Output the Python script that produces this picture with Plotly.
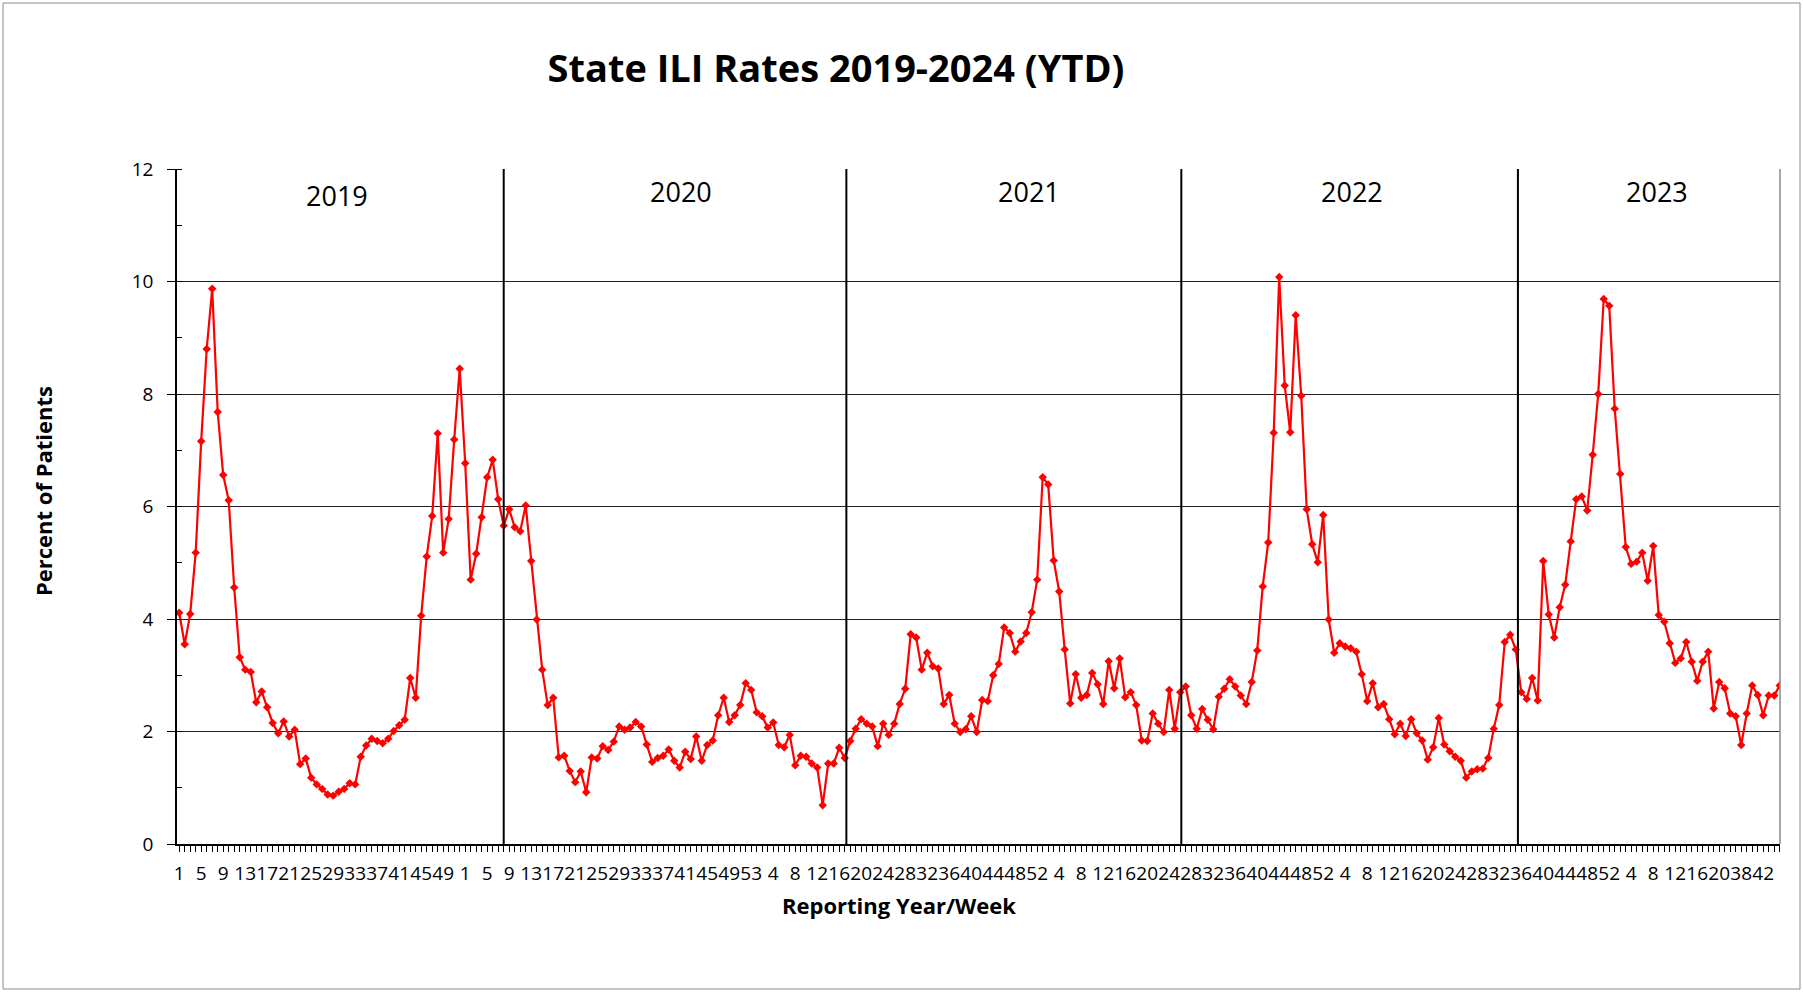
import plotly.graph_objects as go

# ---- categories: reporting weeks per year ----
weeks_2019 = list(range(1, 53))
weeks_2020 = list(range(1, 54))
weeks_2021 = list(range(1, 53))
weeks_2022 = list(range(1, 53))
weeks_2023 = list(range(1, 53))
weeks_2024 = list(range(1, 21)) + list(range(35, 46))

# ---- ILI percent of patients ----
ili_2019 = [4.11, 3.55, 4.09, 5.18, 7.16, 8.80, 9.87, 7.68, 6.56, 6.11, 4.56, 3.32, 3.10,
            3.06, 2.52, 2.71, 2.43, 2.15, 1.97, 2.18, 1.91, 2.03, 1.42, 1.52, 1.18, 1.06,
            0.98, 0.88, 0.86, 0.93, 0.98, 1.08, 1.06, 1.55, 1.75, 1.87, 1.83, 1.79, 1.87,
            2.01, 2.11, 2.21, 2.95, 2.60, 4.06, 5.11, 5.83, 7.30, 5.18, 5.78, 7.19, 8.45]
ili_2020 = [6.77, 4.70, 5.16, 5.81, 6.52, 6.83, 6.13, 5.66, 5.95, 5.63, 5.56, 6.02, 5.03,
            3.99, 3.10, 2.47, 2.60, 1.54, 1.57, 1.30, 1.10, 1.29, 0.92, 1.54, 1.52, 1.74,
            1.67, 1.82, 2.09, 2.03, 2.07, 2.17, 2.09, 1.77, 1.46, 1.53, 1.57, 1.68, 1.48,
            1.36, 1.64, 1.51, 1.91, 1.48, 1.76, 1.84, 2.29, 2.60, 2.17, 2.29, 2.47, 2.86,
            2.74]
ili_2021 = [2.34, 2.27, 2.07, 2.16, 1.76, 1.72, 1.94, 1.40, 1.57, 1.55, 1.43, 1.36, 0.69,
            1.43, 1.43, 1.71, 1.53, 1.83, 2.05, 2.22, 2.14, 2.09, 1.74, 2.14, 1.94, 2.14,
            2.49, 2.76, 3.73, 3.67, 3.10, 3.40, 3.16, 3.12, 2.49, 2.65, 2.14, 1.99, 2.04,
            2.27, 1.99, 2.56, 2.54, 3.00, 3.20, 3.85, 3.75, 3.42, 3.60, 3.75, 4.12, 4.70]
ili_2022 = [6.52, 6.39, 5.04, 4.49, 3.46, 2.50, 3.02, 2.60, 2.65, 3.04, 2.84, 2.49, 3.25,
            2.77, 3.30, 2.61, 2.70, 2.47, 1.84, 1.83, 2.32, 2.14, 1.99, 2.74, 2.05, 2.70,
            2.80, 2.29, 2.05, 2.40, 2.21, 2.04, 2.62, 2.76, 2.93, 2.80, 2.64, 2.49, 2.88,
            3.44, 4.58, 5.36, 7.31, 10.08, 8.15, 7.32, 9.40, 7.97, 5.95, 5.33, 5.01, 5.85]
ili_2023 = [3.99, 3.40, 3.57, 3.51, 3.48, 3.42, 3.02, 2.54, 2.86, 2.43, 2.49, 2.22, 1.95,
            2.14, 1.92, 2.22, 1.97, 1.84, 1.50, 1.72, 2.24, 1.77, 1.65, 1.55, 1.48, 1.18,
            1.29, 1.33, 1.34, 1.53, 2.05, 2.47, 3.59, 3.72, 3.46, 2.70, 2.58, 2.95, 2.55,
            5.03, 4.08, 3.67, 4.21, 4.61, 5.38, 6.13, 6.18, 5.93, 6.92, 8.00, 9.69, 9.57]
ili_2024 = [7.74, 6.58, 5.28, 4.98, 5.02, 5.18, 4.68, 5.30, 4.07, 3.95, 3.57, 3.22, 3.30,
            3.59, 3.24, 2.90, 3.24, 3.42, 2.41, 2.88, 2.77, 2.32, 2.27, 1.76, 2.32, 2.82,
            2.65, 2.29, 2.64, 2.64, 2.82]

# ---- year section labels and separators (in week-index units) ----
section_labels = ["2019", "2020", "2021", "2022", "2023"]
section_label_pos = [29.7, 92.3, 155.5, 214.2, 269.7]
section_label_y = [11.53, 11.6, 11.6, 11.6, 11.6]
separator_pos = [60.0, 122.3, 183.2, 244.4]

weeks = weeks_2019 + weeks_2020 + weeks_2021 + weeks_2022 + weeks_2023 + weeks_2024
values = ili_2019 + ili_2020 + ili_2021 + ili_2022 + ili_2023 + ili_2024
idx = list(range(1, len(values) + 1))

tickvals = idx[::4]
ticktext = [str(w) for w in weeks[::4]]

FONT = "Open Sans"

fig = go.Figure()
fig.add_trace(go.Scatter(
    x=idx, y=values, mode="lines+markers",
    line=dict(color="#FF0000", width=2.2),
    marker=dict(symbol="diamond", size=6.5, color="#FF0000"),
    hoverinfo="y", showlegend=False,
))

W, H = 1803, 992
L, R, T, B = 177, 23, 169, 148
pw, ph = W - L - R, H - T - B

def px_x(p):
    return (p - L) / pw

def px_y(p):
    return (H - B - p) / ph

shapes = []
for s in separator_pos:
    shapes.append(dict(type="line", xref="x", yref="y", x0=s, x1=s, y0=0, y1=12,
                       line=dict(color="#000000", width=2)))
# plot area right border
shapes.append(dict(type="line", xref="paper", yref="paper", x0=1, x1=1, y0=0, y1=1,
                   line=dict(color="#888888", width=1.5)))
# outer chart border
shapes.append(dict(type="rect", xref="paper", yref="paper",
                   x0=px_x(3), x1=px_x(1800), y0=px_y(989), y1=px_y(3),
                   line=dict(color="#8c8c8c", width=1)))

annotations = []
for lab, xp, yp in zip(section_labels, section_label_pos, section_label_y):
    annotations.append(dict(x=xp, y=yp, xref="x", yref="y", text=lab, showarrow=False,
                            xanchor="center", yanchor="middle",
                            font=dict(family=FONT, size=27, color="#000000")))
annotations.append(dict(x=px_x(899), y=px_y(905), xref="paper", yref="paper",
                        text="<b>Reporting Year/Week</b>", showarrow=False,
                        xanchor="center", yanchor="middle",
                        font=dict(family=FONT, size=22, color="#000000")))
annotations.append(dict(x=px_x(43), y=px_y(491), xref="paper", yref="paper",
                        text="<b>Percent of Patients</b>", showarrow=False, textangle=-90,
                        xanchor="center", yanchor="middle",
                        font=dict(family=FONT, size=22, color="#000000")))

fig.update_layout(
    width=W, height=H,
    margin=dict(l=L, r=R, t=T, b=B),
    paper_bgcolor="#ffffff", plot_bgcolor="#ffffff",
    title=dict(text="<b>State ILI Rates 2019-2024 (YTD)</b>", x=px_x(836), xref="paper",
               xanchor="center", y=1 - 69 / H, yanchor="middle",
               font=dict(family=FONT, size=38, color="#000000")),
    shapes=shapes, annotations=annotations,
    xaxis=dict(range=[0.6, len(values) + 0.05], tickmode="array", tickvals=tickvals,
               ticktext=ticktext, tickangle=0, showgrid=False, zeroline=False,
               showline=True, linecolor="#000000", linewidth=1.5,
               ticks="outside", ticklen=6, tickcolor="#000000", ticklabelstandoff=5,
               minor=dict(tick0=1, dtick=1, ticks="outside", ticklen=6, tickcolor="#000000"),
               tickfont=dict(family=FONT, size=19, color="#000000")),
    yaxis=dict(range=[0, 12], dtick=2, showgrid=True, gridcolor="#222222", gridwidth=1.2,
               zeroline=False, showline=True, linecolor="#000000", linewidth=1.5,
               ticks="outside", ticklen=8, tickcolor="#000000", ticklabelstandoff=10,
               minor=dict(dtick=1, ticks="inside", ticklen=5, tickcolor="#000000", showgrid=False),
               tickfont=dict(family=FONT, size=19, color="#000000")),
)

fig.write_html("out.html", config={"displayModeBar": False},
               post_script="document.body.style.margin='0';document.body.style.padding='0';")
